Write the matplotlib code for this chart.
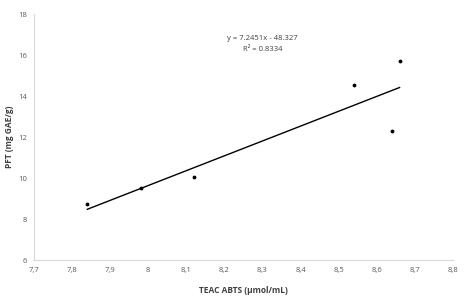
import numpy as np
import matplotlib.pyplot as plt
from matplotlib.ticker import FuncFormatter

# data
teac = [7.84, 7.98, 8.12, 8.54, 8.66, 8.64]
pft = [8.75, 9.52, 10.05, 14.55, 15.72, 12.31]
slope = 7.2451
intercept = -48.327
r2 = 0.8334

plt.rcParams['font.family'] = ['Open Sans', 'DejaVu Sans']

fig = plt.figure(figsize=(4.67, 3.0), dpi=100)
ax = fig.add_axes([0.0728, 0.1333, 0.897, 0.82])

ax.scatter(teac, pft, s=3, color='black', zorder=3)
xs = np.array([min(teac), max(teac)])
ax.plot(xs, slope * xs + intercept, color='black', lw=1.0)

ax.set_xlim(7.7, 8.8)
ax.set_ylim(6, 18)
ax.set_xticks(np.round(np.arange(7.7, 8.81, 0.1), 1))
ax.set_yticks(range(6, 19, 2))
ax.xaxis.set_major_formatter(FuncFormatter(lambda v, p: ('%g' % round(v, 1)).replace('.', ',')))

for s in ['top', 'right']:
    ax.spines[s].set_visible(False)
for s in ['left', 'bottom']:
    ax.spines[s].set_color('#d9d9d9')
    ax.spines[s].set_linewidth(0.8)
ax.tick_params(length=0, labelsize=5.5, labelcolor='#595959', pad=5)

ax.set_xlabel('TEAC ABTS (µmol/mL)', fontsize=6, fontweight='bold', color='#404040', labelpad=9)
ax.set_ylabel('PFT (mg GAE/g)', fontsize=6, fontweight='bold', color='#404040', labelpad=3)

ax.text(8.30, 16.54, 'y = 7.2451x - 48.327\nR² = %.4f' % r2, ha='center', va='center',
        fontsize=5.5, color='#404040', linespacing=1.8)

fig.savefig('out.png', dpi=100)
